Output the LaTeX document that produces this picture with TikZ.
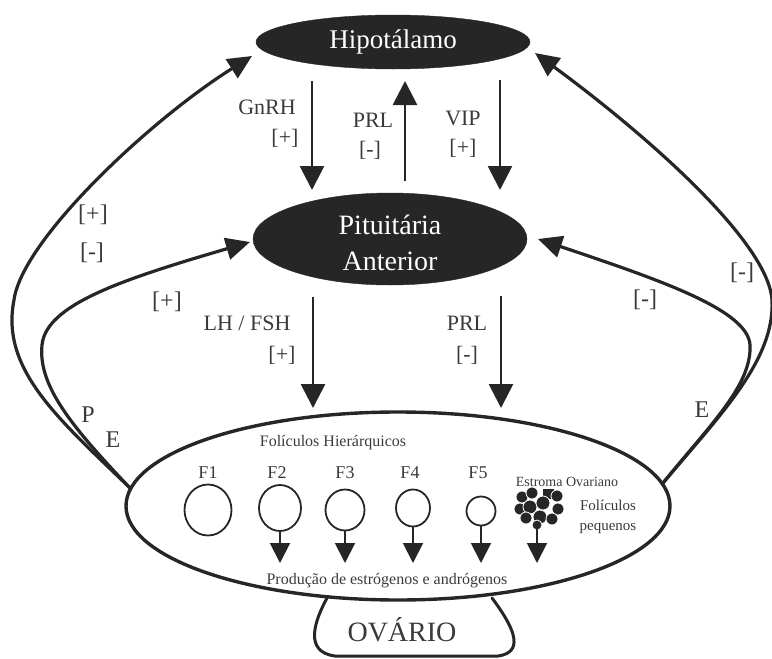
\documentclass[tikz,border=0pt]{standalone}
\usepackage{fontspec}
\setmainfont{Liberation Serif}
\usetikzlibrary{arrows.meta,shapes.geometric}
\definecolor{ink}{HTML}{262626}
\definecolor{lab}{HTML}{3A3A3A}
\begin{document}
\begin{tikzpicture}[x=1pt,y=-1pt,
  darkell/.style={ellipse, fill=ink, draw=ink, inner sep=0pt},
  whitetxt/.style={text=white, inner sep=0pt, align=center},
  arr/.style={line width=2.8pt, draw=ink, -{Triangle[length=24pt,width=24pt]}},
  fb/.style={line width=3.2pt, draw=ink, line cap=round, -{Triangle[length=24pt,width=22pt]}},
  smallarr/.style={line width=2pt, draw=ink, -{Triangle[length=20pt,width=20pt]}},
  lbl/.style={text=lab, inner sep=0pt, font=\fontsize{22}{26}\selectfont},
  fbl/.style={text=lab, inner sep=0pt, font=\fontsize{24}{28}\selectfont},
  foll/.style={draw=ink, line width=1.8pt, ellipse, inner sep=0pt},
  flab/.style={text=lab, inner sep=0pt, font=\fontsize{18}{20}\selectfont},
  stxt/.style={text=lab, inner sep=0pt, font=\fontsize{16}{18}\selectfont},
  blob/.style={fill=ink, draw=white, line width=0.8pt}]
\useasboundingbox (0,0) rectangle (772,659);

% ---- glands ----
\node[darkell, minimum width=274pt, minimum height=54pt] (hyp) at (393,42) {};
\node[whitetxt, font=\fontsize{27}{30}\selectfont] (hyptxt) at (hyp.center) {Hipotálamo};
\node[darkell, minimum width=274pt, minimum height=92pt] (pit) at (390,239) {};
\node[whitetxt, font=\fontsize{28}{36}\selectfont] (pittxt) at (390,243) {Pituitária\\Anterior};

% ---- ovary ----
\node[draw=ink, line width=3.4pt, ellipse, minimum width=544pt, minimum height=188pt, inner sep=0pt] (ov) at (398,506) {};
\coordinate (pedL) at (327,598);
\coordinate (pedR) at (492,598);
\draw[ink, line width=3pt, line cap=round] (pedL) .. controls (314,622) and (304,652) .. (335,656)
  -- (498,656) .. controls (528,652) and (510,622) .. (pedR);
\node[text=lab, inner sep=0pt, font=\fontsize{28}{30}\selectfont] (ovtxt) at (402,630) {OVÁRIO};

% ---- vertical arrows ----
\coordinate (g1) at (312,81);  \coordinate (g2) at (312,190);
\coordinate (p1) at (405,181); \coordinate (p2) at (405,81);
\coordinate (v1) at (500,80);  \coordinate (v2) at (500,190);
\coordinate (l1) at (313,297); \coordinate (l2) at (313,408);
\coordinate (r1) at (501,296); \coordinate (r2) at (501,408);
\draw[arr] (g1) -- (g2);
\draw[arr] (p1) -- (p2);
\draw[arr] (v1) -- (v2);
\draw[arr] (l1) -- (l2);
\draw[arr] (r1) -- (r2);

\node[lbl] (gnrh) at (267,107) {GnRH};
\node[lbl] (gnrhs) at (285,138) {[+]};
\node[lbl] (prl1) at (373,120) {PRL};
\node[lbl] (prl1s) at (370,150) {[-]};
\node[lbl] (vip) at (463,118) {VIP};
\node[lbl] (vips) at (463,148) {[+]};
\node[lbl] (lhfsh) at (247,323) {LH / FSH};
\node[lbl] (lhfshs) at (282,355) {[+]};
\node[lbl] (prl2) at (467,323) {PRL};
\node[lbl] (prl2s) at (467,355) {[-]};

% ---- feedback curves ----
\coordinate (ovL) at (130,488);
\coordinate (ovR) at (663,483);
\coordinate (tHL) at (252,56);
\coordinate (tPL) at (250,242);
\coordinate (tHR) at (535,53);
\coordinate (tPR) at (538,239);
\draw[fb] (ovL) .. controls (60,420) and (0,370) .. (14,300) .. controls (22,240) and (150,120) .. (tHL);
\draw[fb] (ovL) .. controls (70,425) and (38,385) .. (42,345) .. controls (46,305) and (120,280) .. (tPL);
\draw[fb] (ovR) .. controls (720,415) and (775,360) .. (772,300) .. controls (768,240) and (640,130) .. (tHR);
\draw[fb] (ovR) .. controls (710,425) and (752,385) .. (750,345) .. controls (748,310) and (660,280) .. (tPR);

\node[fbl] (lp) at (93,215) {[+]};
\node[fbl] (lm) at (92,253) {[-]};
\node[fbl] (lp2) at (167,302) {[+]};
\node[fbl] (P) at (88,415) {P};
\node[fbl] (E1) at (113,440) {E};
\node[fbl] (rm) at (742,273) {[-]};
\node[fbl] (rm2) at (645,300) {[-]};
\node[fbl] (E2) at (702,410) {E};

% ---- follicles ----
\node[stxt] (fh) at (333,443) {Folículos Hierárquicos};
\node[flab] (F1t) at (208,473) {F1};
\node[flab] (F2t) at (277,473) {F2};
\node[flab] (F3t) at (345,473) {F3};
\node[flab] (F4t) at (410,473) {F4};
\node[flab] (F5t) at (478,473) {F5};
\node[foll, minimum width=47pt, minimum height=51pt] (f1) at (208,510) {};
\node[foll, minimum width=42pt, minimum height=46pt] (f2) at (280,508) {};
\node[foll, minimum width=39pt, minimum height=41pt] (f3) at (345,510) {};
\node[foll, minimum width=34pt, minimum height=37pt] (f4) at (413,508) {};
\node[foll, minimum width=29pt, minimum height=29pt] (f5) at (481,511) {};
\coordinate (base) at (0,563);
\draw[smallarr] (f2.south) -- (f2.south |- base);
\draw[smallarr] (f3.south) -- (f3.south |- base);
\draw[smallarr] (f4.south) -- (f4.south |- base);
\draw[smallarr] (f5.south) -- (f5.south |- base);

% stroma blob
\coordinate (stroma) at (540,505);
\begin{scope}[shift={(stroma)}]
  \fill[blob] (-18,-8) circle[radius=6];
  \fill[blob] (-8,-12) circle[radius=6];
  \fill[blob] (2,-17) rectangle (14,-6);
  \fill[blob] (17,-9) circle[radius=6];
  \fill[blob] (-20,4) circle[radius=6];
  \fill[blob] (-10,2) circle[radius=7];
  \fill[blob] (3,-2) circle[radius=7];
  \fill[blob] (18,4) circle[radius=6];
  \fill[blob] (-14,13) circle[radius=6];
  \fill[blob] (0,12) circle[radius=7];
  \fill[blob] (12,14) circle[radius=6];
  \fill[blob] (-3,20) circle[radius=5];
\end{scope}
\coordinate (stb) at (537,527);
\draw[smallarr] (stb) -- (stb |- base);
\node[text=lab, inner sep=0pt, font=\fontsize{14}{16}\selectfont] (est) at (567,482) {Estroma Ovariano};
\node[text=lab, inner sep=0pt, align=center, font=\fontsize{15}{20}\selectfont] (fp) at (608,517) {Folículos\\pequenos};
\node[stxt] (prod) at (387,581) {Produção de estrógenos e andrógenos};
\end{tikzpicture}
\end{document}
